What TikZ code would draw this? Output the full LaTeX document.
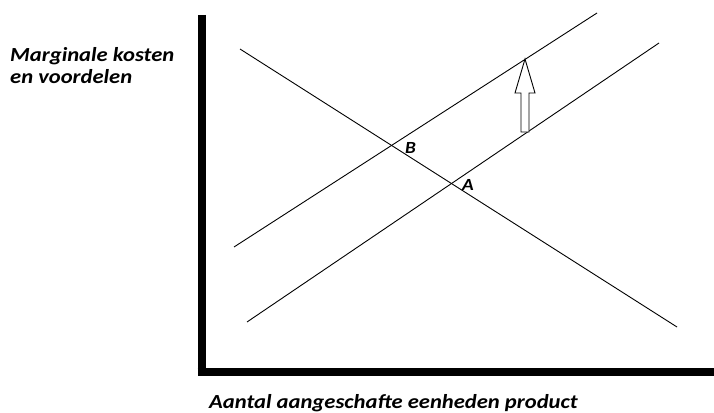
\documentclass[tikz,border=0pt]{standalone}
\usepackage{fontspec}
\setmainfont{Carlito}
\newfontfamily\lblfont[FakeStretch=1.13]{Carlito}
\tikzset{
  curve/.style={line width=0.9pt, black},
  axisbar/.style={line width=8pt, black},
  lbl/.style={font=\lblfont\bfseries\itshape\fontsize{20}{22}\selectfont, inner sep=0pt, anchor=base west},
  pt/.style={font=\lblfont\bfseries\itshape\fontsize{17}{19}\selectfont, inner sep=0pt, anchor=base west},
  shiftarrow/.style={line width=0.9pt, draw=black, fill=white}
}
\begin{document}
\begin{tikzpicture}[x=1pt,y=-1pt]
\useasboundingbox (0,0) rectangle (714,412);
% axes
\coordinate (ytop) at (201.5,15);
\coordinate (origin) at (201.5,372);
\coordinate (xend) at (714,372);
\draw[axisbar] (ytop) -- (origin |- 0,376) ;
\draw[axisbar] ([xshift=-4pt]origin) -- (xend);
% curves
\coordinate (d1) at (240,49);
\coordinate (d2) at (677,327);
\coordinate (u1) at (234,247);
\coordinate (u2) at (597,13);
\coordinate (l1) at (247,322);
\coordinate (l2) at (659,43);
\draw[curve] (d1) -- (d2);
\draw[curve] (u1) -- (u2);
\draw[curve] (l1) -- (l2);
% shift arrow
\draw[shiftarrow] (525,59) -- (535,93) -- (529,93) -- (529,132) -- (521,132) -- (521,93) -- (515,93) -- cycle;
% labels
\node[lbl] (ylab1) at (10,61) {Marginale kosten};
\node[lbl] (ylab2) at (10,83) {en voordelen};
\node[lbl] (xlab) at (209,408) {Aantal aangeschafte eenheden product};
\node[pt] (B) at (405,153) {B};
\node[pt] (A) at (462,190) {A};
\end{tikzpicture}
\end{document}
